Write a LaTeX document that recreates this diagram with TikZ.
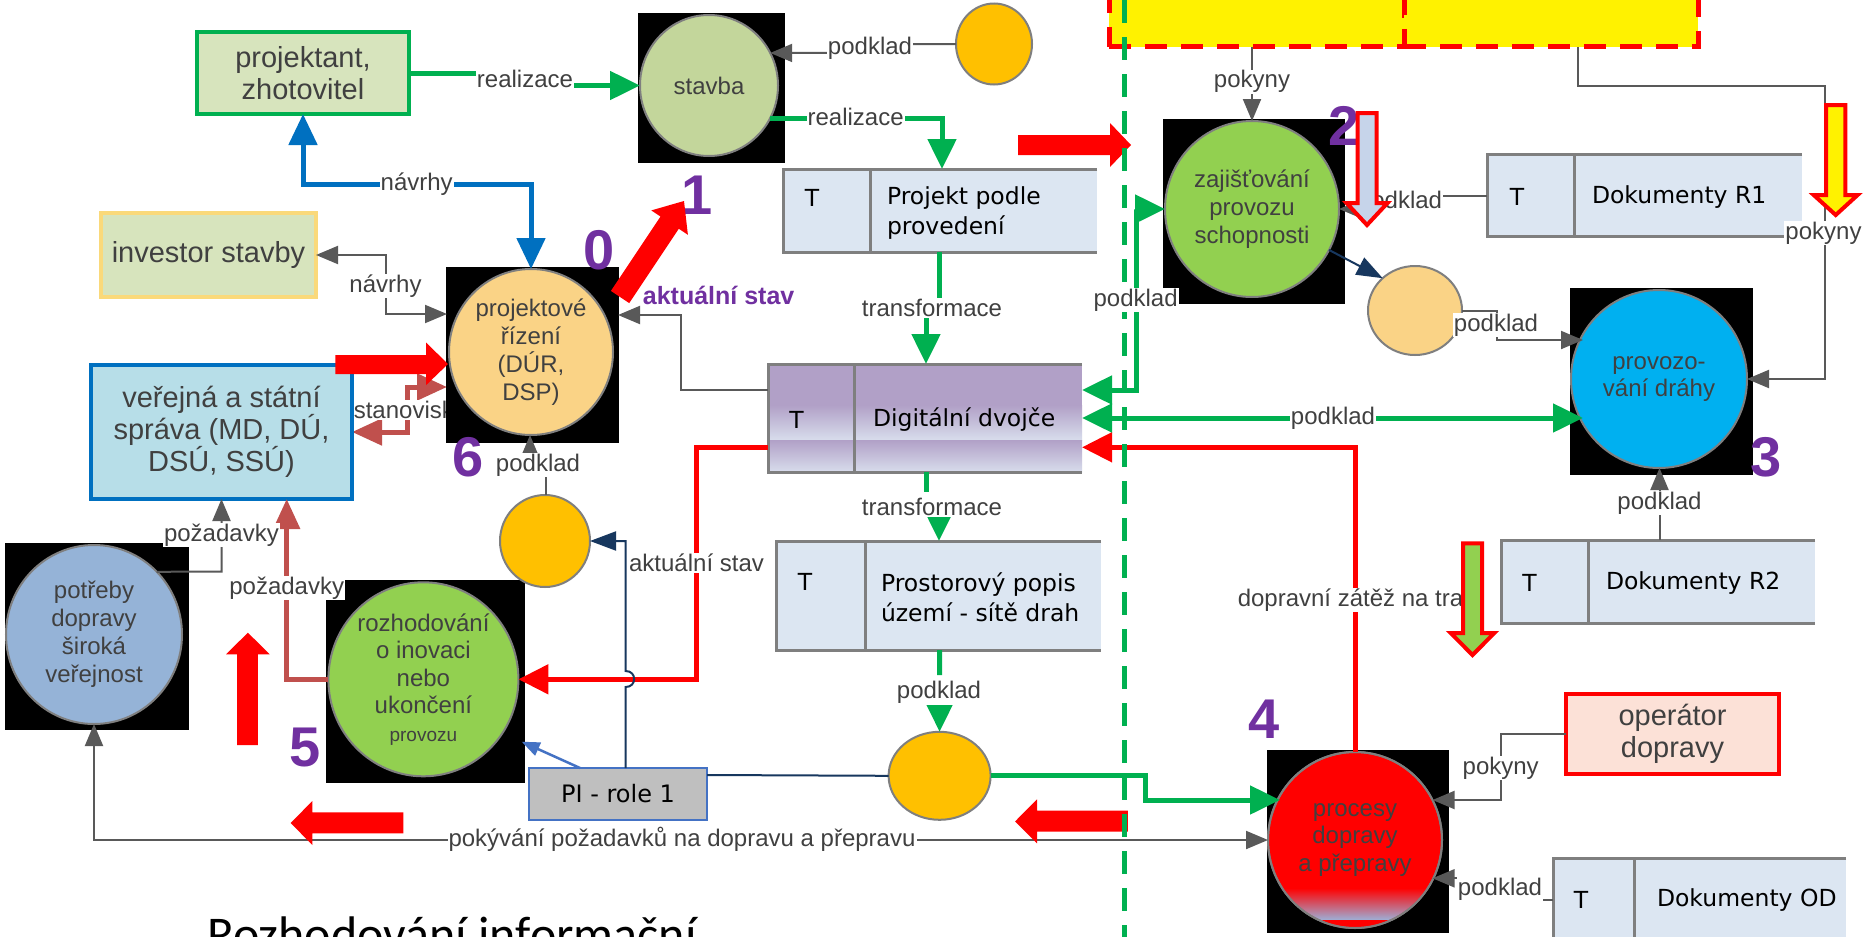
\documentclass[tikz,border=0pt]{standalone}
\usepackage{fontspec}
\setmainfont{Liberation Sans}
\newfontfamily\tabfont{DejaVu Sans}
\newfontfamily\calfont{Carlito}
\usetikzlibrary{arrows.meta,shapes.geometric,calc}
\pgfdeclarelayer{lzero}
\pgfdeclarelayer{lone}
\pgfdeclarelayer{ltwo}
\pgfsetlayers{lzero,lone,ltwo,main}

\definecolor{cgreen}{HTML}{00B050}
\definecolor{cblue}{HTML}{0070C0}
\definecolor{cgray}{HTML}{595959}
\definecolor{cbrown}{HTML}{C0504D}
\definecolor{cnavy}{HTML}{17375E}
\definecolor{cpurple}{HTML}{7030A0}
\definecolor{ctxt}{HTML}{404040}
\definecolor{cedge}{HTML}{7F7F7F}
\definecolor{tblfill}{HTML}{DCE6F2}
\definecolor{tblline}{HTML}{7F7F7F}
\definecolor{lgreen}{HTML}{D7E4BD}
\definecolor{cgold}{HTML}{FAD97A}
\definecolor{peach}{HTML}{FAD386}
\definecolor{orng}{HTML}{FFC000}
\definecolor{lav}{HTML}{B1A0C7}
\definecolor{lavlt}{HTML}{D8DDEC}
\definecolor{cstav}{HTML}{C3D69B}
\definecolor{cgrn2}{HTML}{92D050}
\definecolor{ccyan}{HTML}{00B0F0}
\definecolor{cpot}{HTML}{95B3D7}
\definecolor{cver}{HTML}{B7DEE8}
\definecolor{cop}{HTML}{FCE1D7}
\definecolor{cpi}{HTML}{BFBFBF}
\definecolor{cpiedge}{HTML}{4472C4}
\definecolor{ctwo}{HTML}{C6D4EA}
\definecolor{cgb}{HTML}{9DB0D8}

\tikzset{
 every node/.style={inner sep=0pt, outer sep=0pt},
 circ/.style={ellipse, draw=cedge, line width=2pt, align=center, text=ctxt, font=\fontsize{24}{28}\selectfont},
 sqbox/.style={rectangle, align=center, text=ctxt, font=\fontsize{29}{32}\selectfont},
 tbl/.style={rectangle, fill=tblfill},
 ybox/.style={rectangle, fill=yellow, draw=red, line width=5pt, dash pattern=on 22pt off 14pt},
 lbl/.style={fill=white, inner sep=1pt, text=ctxt, font=\fontsize{24}{28}\selectfont},
 num/.style={text=cpurple, font=\fontsize{56}{60}\selectfont\bfseries},
 ttxt/.style={font=\tabfont\fontsize{23.5}{30}\selectfont, align=left, text=black, anchor=west},
 tT/.style={font=\tabfont\fontsize{23.5}{30}\selectfont, text=black},
 tline/.style={draw=tblline, line width=3pt},
 gline/.style={draw=cgray, line width=2pt},
 gend/.style={-{Triangle[length=22pt,width=18pt]}},
 gboth/.style={{Triangle[length=22pt,width=18pt]}-{Triangle[length=22pt,width=18pt]}},
 grline/.style={draw=cgreen, line width=5pt},
 grend/.style={-{Triangle[length=30pt,width=28pt]}},
 grboth/.style={{Triangle[length=30pt,width=28pt]}-{Triangle[length=30pt,width=28pt]}},
 blline/.style={draw=cblue, line width=5pt, {Triangle[length=31pt,width=28pt]}-{Triangle[length=31pt,width=28pt]}},
 rdline/.style={draw=red, line width=5pt, -{Triangle[length=30pt,width=29pt]}},
 brline/.style={draw=cbrown, line width=5pt},
 brend/.style={-{Triangle[length=30pt,width=26pt]}},
 brboth/.style={{Triangle[length=30pt,width=26pt]}-{Triangle[length=30pt,width=26pt]}},
 nvline/.style={draw=cnavy, line width=2pt},
 nvend/.style={-{Triangle[length=26pt,width=19pt]}},
 outarrow/.style={draw=red, line width=4pt, line join=miter},
 pibox/.style={rectangle, fill=cpi, draw=cpiedge, line width=2.5pt, font=\tabfont\fontsize{24}{28}\selectfont, text=black},
}
\newcommand{\storelines}[2]{%
 \draw[tline] (#1.north east) -- (#1.north west) -- (#1.south west) -- (#1.south east);
 \draw[tline] ([xshift=#2]#1.north west) -- ([xshift=#2]#1.south west);}

\begin{document}
\begin{tikzpicture}[x=1pt,y=-1pt]
\useasboundingbox (0,0) rectangle (1864,937);
\clip (0,0) rectangle (1864,937);
\begin{pgfonlayer}{lzero}
\fill[white] (0,0) rectangle (1864,937);
\end{pgfonlayer}

% yellow boxes
\node[ybox, minimum width=295pt, minimum height=57pt] (ybl) at (1256.5,18.35) {};
\node[ybox, minimum width=294pt, minimum height=57pt] (ybr) at (1551,18.35) {};

% black backgrounds
\begin{pgfonlayer}{ltwo}
\fill[black] (638,13) rectangle (785,163);
\fill[black] (446,267) rectangle (619,443);
\fill[black] (1163,119) rectangle (1345,304);
\fill[black] (1570,288) rectangle (1753,475);
\fill[black] (5,543) rectangle (189,730);
\fill[black] (326,580) rectangle (525,783);
\fill[black] (1267,750) rectangle (1449,933);
\end{pgfonlayer}

% boxes
\node[sqbox, fill=lgreen, draw=cgreen, line width=3.5pt, minimum width=212pt, minimum height=82pt] (pj) at (303,73) {projektant,\\zhotovitel};
\node[sqbox, fill=lgreen, draw=cgold, line width=4.5pt, minimum width=215pt, minimum height=84pt] (inv) at (208.5,255) {investor stavby};
\node[sqbox, fill=cver, draw=cblue, line width=4pt, minimum width=261pt, minimum height=134pt] (ver) at (221.5,432) {veřejná a státní\\správa (MD, DÚ,\\DSÚ, SSÚ)};
\node[sqbox, fill=cop, draw=red, line width=4pt, minimum width=213pt, minimum height=80pt] (op) at (1672.5,734) {operátor\\dopravy};
\node[pibox, minimum width=178pt, minimum height=52pt] (pi) at (618,794) {PI - role 1\hspace{24pt}};

% circles
\node[circ, fill=cstav, minimum width=138pt, minimum height=141pt] (st) at (709,85.5) {stavba};
\node[circ, fill=orng, minimum width=76pt, minimum height=81pt] (o1) at (994,44) {};
\node[circ, fill=peach, minimum width=164pt, minimum height=166pt] (pr) at (531,352) {projektové\\řízení\\(DÚR,\\DSP)};
\node[circ, fill=orng, minimum width=90pt, minimum height=92pt] (o2) at (545,541) {};
\node[circ, fill=cgrn2, minimum width=174pt, minimum height=176pt] (za) at (1252,209) {zajišťování\\provozu\\schopnosti};
\node[circ, fill=peach, minimum width=94pt, minimum height=89pt] (pe) at (1415,310.5) {};
\node[circ, fill=ccyan, minimum width=176pt, minimum height=178pt, font=\fontsize{24}{27}\selectfont] (pv) at (1659,379) {provozo-\\vání dráhy};
\node[circ, fill=cpot, minimum width=176pt, minimum height=179pt] (pt) at (94,634.5) {potřeby\\dopravy\\široká\\veřejnost};
\node[circ, fill=cgrn2, minimum width=190pt, minimum height=194pt, font=\fontsize{24}{27.5}\selectfont] (ro) at (423.4,679.3) {rozhodování\\o inovaci\\nebo\\ukončení\\{\fontsize{19}{27.5}\selectfont provozu}};
\node[circ, fill=orng, minimum width=102pt, minimum height=88pt] (o3) at (939.6,775.8) {};
\node[circ, fill=red, minimum width=174pt, minimum height=176pt, font=\fontsize{24}{27.5}\selectfont] (pc) at (1355,840) {procesy\\dopravy\\a přepravy};
\begin{scope}
\clip (1355,840) ellipse [x radius=86pt, y radius=87pt];
\shade[top color=red, bottom color=cgb] (1260,888) rectangle (1450,920);
\fill[red] (1260,920) rectangle (1450,932);
\end{scope}
\draw[cedge, line width=2pt] (1355,840) ellipse [x radius=87pt, y radius=88pt];

% data stores
\node[tbl, minimum width=314pt, minimum height=83pt] (tp) at (940,210.5) {};
\node[tbl, fill=lav, minimum width=314pt, minimum height=108pt] (td) at (925,418) {};
\node[tbl, minimum width=325pt, minimum height=109pt] (ts) at (938.5,595.5) {};
\node[tbl, minimum width=315pt, minimum height=82pt] (tr1) at (1644.5,195) {};
\node[tbl, minimum width=314pt, minimum height=83pt] (tr2) at (1658,581.5) {};
\node[tbl, minimum width=293pt, minimum height=102pt] (tod) at (1699.5,909) {};
\shade[top color=lav, bottom color=lavlt] (768,405) rectangle (1082,440);
\shade[top color=lav, bottom color=lavlt] (768,440) rectangle (1082,472);
\storelines{tp}{87pt}
\storelines{td}{86pt}
\storelines{ts}{89pt}
\storelines{tr1}{87pt}
\storelines{tr2}{87pt}
\storelines{tod}{81pt}
\node[tT] at (812,198) {T};
\node[ttxt] at (887,213) {Projekt podle\\provedení};
\node[tT] at (796.5,420) {T};
\node[ttxt] at (873,420) {Digitální dvojče};
\node[tT] at (805,582) {T};
\node[ttxt] at (881,597) {Prostorový popis\\území - sítě drah};
\node[tT] at (1517,197) {T};
\node[ttxt] at (1592,197) {Dokumenty R1};
\node[tT] at (1529.5,583) {T};
\node[ttxt] at (1606,583) {Dokumenty R2};
\node[tT] at (1581,900) {T};
\node[ttxt] at (1657,900) {Dokumenty OD};

% stanovisko (under the black square)
\begin{pgfonlayer}{lone}
\draw[brline, brboth] ($(pr.west)+(-2,35)$) -- (407,387) -- (407,432) -- (ver.east);
\node[lbl] at (410.5,410) {stanovisko};
\end{pgfonlayer}

% connectors
\draw[grline, grend] (pj.east) -- (525,73) -- (525,85.5) -- (st.west);
\draw[gline, gend] (o1.west) -- (870,44) -- (870,53) -- (st.28);
\draw[grline, grend] (st.-28) -| ([xshift=2pt]tp.north);
\draw[grline, grend] ([xshift=-1pt]tp.south) -- (939,308) -- (926,308) -- ([xshift=1pt]td.north);
\draw[grline, grend, dash pattern=on 20pt off 10pt] ([xshift=1pt]td.south) -- (926,507) -- (939,507) -- ([xshift=0.5pt]ts.north);
\draw[grline, grend, dash pattern=on 25pt off 10pt] ([xshift=1pt]ts.south) -- (o3.north);
\draw[gline, gend] ($(td.west)+(0,-28)$) -- (681,390) -- (681,315) -- ($(pr.east)+(5,-37)$);
\draw[blline] (pr.north) -- (531,184) -- (303,184) -- (pj.south);
\draw[gline, gboth] ($(pr.west)+(-2,-38)$) -- (385.5,314) -- (385.5,255) -- (inv.east);
\draw[gline, gend] ($(o2.north)+(0.6,0)$) -- (545.6,465) -- (530,465) -- ($(pr.south)+(-1,0)$);
\draw[gline, gend] (pt.45) -- (221.5,571.7) -- (ver.south);
\draw[brline, brend] (ro.west) -- (286.7,679.3) -- ($(ver.south)+(65.2,0)$);
\draw[gline, gboth] (pt.south) |- (pc.west);
\draw[rdline] (pc.north) -- (1355,447.3) -- ($(td.east)+(0,29.3)$);
\draw[rdline] ($(td.west)+(0,29.3)$) -- (696.7,447.3) -- (696.7,679.3) -- (ro.east);
\draw[nvline, nvend] ($(pi.north)+(7.7,0)$) -- (625.7,687) .. controls (637,687) and (637,671) .. (625.7,671) -- (625.7,541) -- (o2.east);
\draw[nvline] ($(pi.east)+(0,-19)$) -- (o3.west);
\draw[draw=cpiedge, line width=2.5pt, -{Triangle[length=18pt,width=14pt]}] ($(pi.north)+(-38,0)$) -- ($(ro.east)+(3.3,62.4)$);
\draw[grline, grend] (o3.east) -- (1145.6,775.8) -- (1145.6,800) -- ($(pc.west)+(12,-40)$);
\draw[grline, grboth] ($(td.east)+(0,-28)$) -- (1136.6,390) -- (1136.6,209) -- (za.west);
\draw[grline, grboth] (td.east) -- ($(pv.west)+(12,39)$);
\draw[gline, gend] ($(ybl.south)+(-4.5,0)$) -- (za.north);
\draw[gline, gend] ($(tr1.west)+(0,1)$) -- (1400,196) -- (1400,209) -- (za.east);
\draw[nvline, nvend] (za.-28) -- (pe.135);
\draw[gline, gend] (pe.east) -- (1497,310.5) -- (1497,340) -- ($(pv.west)+(12,-39)$);
\draw[gline, gend] ($(ybr.south)+(26.5,0)$) -- (1577.5,86) -- (1824.5,86) -- (1824.5,379) -- (pv.east);
\draw[gline, gend] ($(tr2.north)+(1.5,0)$) -- ($(pv.south)+(0.5,0)$);
\draw[gline, gend] (op.west) -- (1500.7,734) -- (1500.7,800) -- ($(pc.east)+(-9.5,-40)$);
\draw[gline, gend] ($(tod.west)+(0,-9)$) -- (1500,900) -- (1500,878.3) -- ($(pc.east)+(-9.5,38.3)$);

% red block arrows near the dashed line
\fill[red] (1018,135) -- (1110,135) -- (1110,123) -- (1131,145) -- (1110,167) -- (1110,155) -- (1018,155) -- cycle;
\fill[red] (1127.8,810.7) -- (1037,810.7) -- (1037,799.3) -- (1015,821.5) -- (1037,843.3) -- (1037,831.7) -- (1127.8,831.7) -- cycle;

% dashed boundary
\draw[cgreen, line width=5pt, dash pattern=on 23pt off 14pt] (1124.7,0) -- (1124.7,937);

% labels
\node[lbl] at (525,79) {realizace};
\node[lbl] at (870,48.5) {podklad};
\node[lbl] at (855.6,117) {realizace};
\node[lbl] at (932,308) {transformace};
\node[lbl] at (932,507) {transformace};
\node[lbl] at (939,692.7) {podklad};
\node[lbl] at (416.7,184) {návrhy};
\node[lbl] at (385.5,286) {návrhy};
\node[lbl] at (538,465) {podklad};
\node[lbl] at (221.4,535) {požadavky};
\node[lbl] at (286.7,588) {požadavky};
\node[lbl] at (682,839) {pokývání požadavků na dopravu a přepravu};
\node[lbl] at (1355,600) {dopravní zátěž na trať};
\node[lbl] at (696.5,563) {aktuální stav};
\node[lbl] at (1135.6,300) {podklad};
\node[lbl] at (1333,418) {podklad};
\node[lbl] at (1252,81.7) {pokyny};
\node[lbl] at (1400,202) {podklad};
\node[lbl] at (1496,325) {podklad};
\node[lbl] at (1823.5,233) {pokyny};
\node[lbl] at (1659.5,503.3) {podklad};
\node[lbl] at (1500.7,768.3) {pokyny};
\node[lbl] at (1500,889) {podklad};
\node[text=cpurple, font=\fontsize{25}{28}\selectfont\bfseries] at (718.6,295) {aktuální stav};

% numbers
\node[num] at (599,250) {0};
\node[num] at (697,195) {1};
\node[num] at (1344.5,126) {2};
\node[num] at (1766,457) {3};
\node[num] at (1264,719) {4};
\node[num] at (305.5,748) {5};
\node[num] at (468.5,457) {6};

% other block arrows
\fill[red] (403.3,812.3) -- (312.4,812.3) -- (312.4,801) -- (290.6,823) -- (312.4,845) -- (312.4,833.3) -- (403.3,833.3) -- cycle;
\fill[red] (335.3,355) -- (426.2,355) -- (426.2,342.7) -- (448,364) -- (426.2,385) -- (426.2,374) -- (335.3,374) -- cycle;
\fill[red] (237,745) -- (237,654.3) -- (226,654.3) -- (247.9,632.7) -- (269.7,654.3) -- (257.8,654.3) -- (257.8,745) -- cycle;
\fill[red] (629.2,303.1) -- (678.8,228.7) -- (687.9,234.8) -- (684,201) -- (651.3,210.4) -- (660.5,216.5) -- (610.9,290.9) -- cycle;
\filldraw[fill=ctwo, outarrow] (1357.5,113) -- (1376.5,113) -- (1376.5,203) -- (1387.5,203) -- (1367,225) -- (1346.5,203) -- (1357.5,203) -- cycle;
\filldraw[fill=yellow, outarrow] (1826,105) -- (1845.4,105) -- (1845.4,195) -- (1857.6,195) -- (1835.7,215) -- (1813.7,195) -- (1826,195) -- cycle;
\filldraw[fill=cgrn2, outarrow] (1463,543.3) -- (1482,543.3) -- (1482,633) -- (1494.3,633) -- (1472.5,655) -- (1450.7,633) -- (1463,633) -- cycle;

% bottom heading (cut off at the picture edge, as in the reference)
\node[anchor=base west, font=\calfont\fontsize{50}{55}\selectfont, text=black] at (207,951) {Rozhodování informační};
\end{tikzpicture}
\end{document}
